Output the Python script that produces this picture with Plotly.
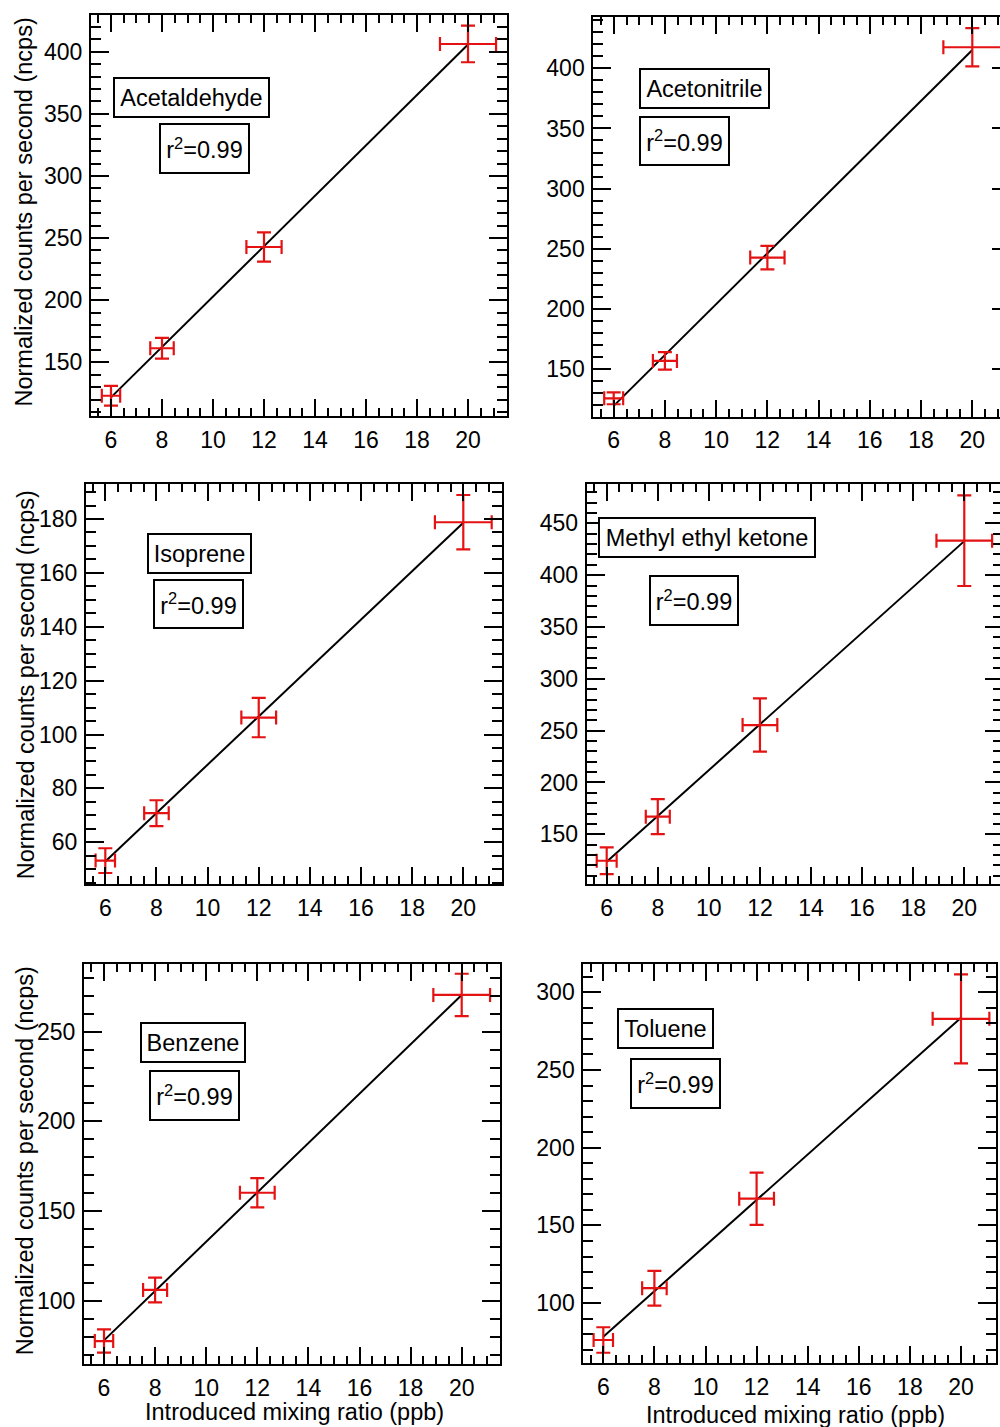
import numpy as np
import plotly.graph_objects as go

# Calibration standards introduced at four mixing ratios (ppb)
mixing_ppb = [6, 8, 12, 20]

compounds = ["Acetaldehyde", "Acetonitrile", "Isoprene",
             "Methyl ethyl ketone", "Benzene", "Toluene"]

# Normalized counts per second (ncps) and their uncertainties
acetaldehyde_ncps = [123.1, 161.3, 242.8, 406.2]
acetaldehyde_err = [8.0, 8.3, 11.7, 14.7]
acetaldehyde_xerr = [0.36, 0.46, 0.69, 1.10]

acetonitrile_ncps = [125.6, 156.7, 242.6, 417.5]
acetonitrile_err = [4.9, 7.3, 9.7, 15.9]
acetonitrile_xerr = [0.37, 0.47, 0.67, 1.13]

isoprene_ncps = [53.2, 70.8, 106.3, 178.8]
isoprene_err = [4.6, 4.8, 7.3, 10.1]
isoprene_xerr = [0.38, 0.48, 0.68, 1.11]

mek_ncps = [124.5, 167.0, 255.4, 433.2]
mek_err = [12.9, 16.9, 25.7, 43.7]
mek_xerr = [0.39, 0.47, 0.68, 1.09]

benzene_ncps = [77.5, 106.0, 160.2, 270.5]
benzene_err = [6.5, 6.9, 8.2, 11.8]
benzene_xerr = [0.36, 0.47, 0.68, 1.11]

toluene_ncps = [76.3, 109.6, 167.2, 282.9]
toluene_err = [8.2, 11.2, 16.8, 28.6]
toluene_xerr = [0.38, 0.48, 0.68, 1.11]

r_squared = ["0.99", "0.99", "0.99", "0.99", "0.99", "0.99"]

y_title = "Normalized counts per second (ncps)"
x_title = "Introduced mixing ratio (ppb)"

series = [
    (acetaldehyde_ncps, acetaldehyde_err, acetaldehyde_xerr),
    (acetonitrile_ncps, acetonitrile_err, acetonitrile_xerr),
    (isoprene_ncps, isoprene_err, isoprene_xerr),
    (mek_ncps, mek_err, mek_xerr),
    (benzene_ncps, benzene_err, benzene_xerr),
    (toluene_ncps, toluene_err, toluene_xerr),
]

# ---- page geometry (pixels) ----
W, H = 1000, 1427
FONT = "Liberation Sans, Arial, sans-serif"
RED = "rgb(228,18,18)"

# frame: left, right, top, bottom (px); axis ranges; y tick spacing;
# label boxes as (cx, cy, w, h); y-title centre; right-edge stub ticks
panels = [
    dict(frame=(91, 507, 15, 416), xr=(5.216, 21.529), yr=(106.79, 429.53),
         ydt=50, ymn=10, name_box=(191.5, 97.5, 157, 41), r2_box=(204.5, 148.5, 91, 51),
         ytitle=(23, 212.5), xtitle=None, stub=None),
    dict(frame=(593.3, 1000, 16.7, 416.7), xr=(5.204, 21.081), yr=(110.34, 442.90),
         ydt=50, ymn=10, name_box=(704.7, 88.3, 131, 41), r2_box=(684.7, 140.7, 91, 50),
         ytitle=None, xtitle=None, stub=(8, 0)),
    dict(frame=(86, 502.3, 484, 884.3), xr=(5.245, 21.525), yr=(44.41, 192.99),
         ydt=20, ymn=5, name_box=(199.2, 553.8, 105, 41), r2_box=(198.7, 604.3, 91, 50),
         ytitle=(26.3, 685), xtitle=None, stub=None),
    dict(frame=(586.7, 1000, 484, 884.3), xr=(5.217, 21.398), yr=(101.77, 487.91),
         ydt=50, ymn=10, name_box=(706.5, 537.2, 218, 41), r2_box=(694.2, 600.3, 90, 51),
         ytitle=None, xtitle=None, stub=(15, 7)),
    dict(frame=(84, 500, 964, 1364), xr=(5.217, 21.499), yr=(64.70, 287.75),
         ydt=50, ymn=10, name_box=(192.8, 1042.8, 106, 41), r2_box=(194.7, 1095.3, 91, 51),
         ytitle=(24.5, 1160.8), xtitle=(294.3, 1412), stub=None),
    dict(frame=(583.3, 996, 964, 1363), xr=(5.217, 21.370), yr=(61.50, 318.16),
         ydt=50, ymn=10, name_box=(665.8, 1028.2, 97, 41), r2_box=(675.3, 1083, 91, 51),
         ytitle=None, xtitle=(795.8, 1415), stub=None),
]


def px(x):
    return x / W


def py(y):
    return 1 - y / H


fig = go.Figure()
layout = {}
annotations = []

tick_font = dict(family=FONT, size=23, color="black")
text_font = dict(family=FONT, size=23.5, color="black")

for i, (p, (ncps, err, xerr), name, r2) in enumerate(zip(panels, series, compounds, r_squared), start=1):
    sfx = "" if i == 1 else str(i)
    xa, ya = f"x{sfx}", f"y{sfx}"
    L, R, T, B = p["frame"]

    # least-squares calibration line over the measured range
    slope, icpt = np.polyfit(mixing_ppb, ncps, 1)
    xf = [min(mixing_ppb), max(mixing_ppb)]
    fig.add_trace(go.Scatter(
        x=xf, y=[slope * v + icpt for v in xf], mode="lines",
        line=dict(color="black", width=2), xaxis=xa, yaxis=ya,
        showlegend=False, hoverinfo="skip"))

    # measurements drawn as error-bar crosses
    fig.add_trace(go.Scatter(
        x=mixing_ppb, y=ncps, mode="markers",
        marker=dict(size=1, color="rgba(0,0,0,0)"),
        error_y=dict(type="data", array=err, color=RED, thickness=2.2, width=7),
        error_x=dict(type="data", array=xerr, color=RED, thickness=2.2, width=7),
        xaxis=xa, yaxis=ya, showlegend=False, hoverinfo="skip"))

    layout[f"xaxis{sfx}"] = dict(
        domain=[px(L), px(R)], range=list(p["xr"]), anchor=ya,
        tick0=0, dtick=2, ticks="inside", ticklen=17, tickwidth=2, tickcolor="black",
        minor=dict(tick0=0, dtick=0.5, ticks="inside", ticklen=8, tickwidth=2, tickcolor="black"),
        showline=True, linecolor="black", linewidth=2, mirror="ticks",
        showgrid=False, zeroline=False, tickfont=tick_font, ticklabelstandoff=2)

    layout[f"yaxis{sfx}"] = dict(
        domain=[py(B), py(T)], range=list(p["yr"]), anchor=xa,
        tick0=0, dtick=p["ydt"], ticks="inside", ticklen=18, tickwidth=2, tickcolor="black",
        minor=dict(tick0=0, dtick=p["ymn"], ticks="inside", ticklen=10, tickwidth=2, tickcolor="black"),
        showline=True, linecolor="black", linewidth=2,
        mirror=False if p["stub"] else "ticks",
        showgrid=False, zeroline=False, tickfont=tick_font, ticklabelstandoff=2)

    # right-hand ticks of panels whose frame runs past the page edge
    if p["stub"]:
        major_len, minor_len = p["stub"]
        oid = 6 + (1 if i == 2 else 2)
        minor = dict(tick0=0, dtick=p["ymn"], ticks="inside", ticklen=minor_len,
                     tickwidth=2, tickcolor="black") if minor_len else dict(ticks="")
        layout[f"yaxis{oid}"] = dict(
            overlaying=ya, anchor=xa, side="right", range=list(p["yr"]),
            tick0=0, dtick=p["ydt"], ticks="inside", ticklen=major_len, tickwidth=2,
            tickcolor="black", minor=minor, showticklabels=False, showline=False,
            showgrid=False, zeroline=False)
        fig.add_trace(go.Scatter(x=[None], y=[None], xaxis=xa, yaxis=f"y{oid}",
                                 showlegend=False, hoverinfo="skip"))

    # compound name and r^2 boxes
    for (cx, cy, bw, bh), txt in ((p["name_box"], name), (p["r2_box"], f"r<sup>2</sup>=" + r2)):
        annotations.append(dict(
            xref="paper", yref="paper", x=px(cx), y=py(cy), xanchor="center", yanchor="middle",
            text=txt, showarrow=False, font=text_font, bordercolor="black", borderwidth=2,
            borderpad=0, bgcolor="white", width=bw - 4, height=bh - 4, align="center"))

    if p["ytitle"]:
        tx, ty = p["ytitle"]
        annotations.append(dict(xref="paper", yref="paper", x=px(tx), y=py(ty),
                                xanchor="center", yanchor="middle", text=y_title,
                                textangle=-90, showarrow=False, font=text_font))
    if p["xtitle"]:
        tx, ty = p["xtitle"]
        annotations.append(dict(xref="paper", yref="paper", x=px(tx), y=py(ty),
                                xanchor="center", yanchor="middle", text=x_title,
                                showarrow=False, font=text_font))

fig.update_layout(
    width=W, height=H, margin=dict(l=0, r=0, t=0, b=0),
    paper_bgcolor="white", plot_bgcolor="white",
    font=dict(family=FONT, color="black"),
    annotations=annotations, showlegend=False, **layout)

fig.write_html("out.html")
